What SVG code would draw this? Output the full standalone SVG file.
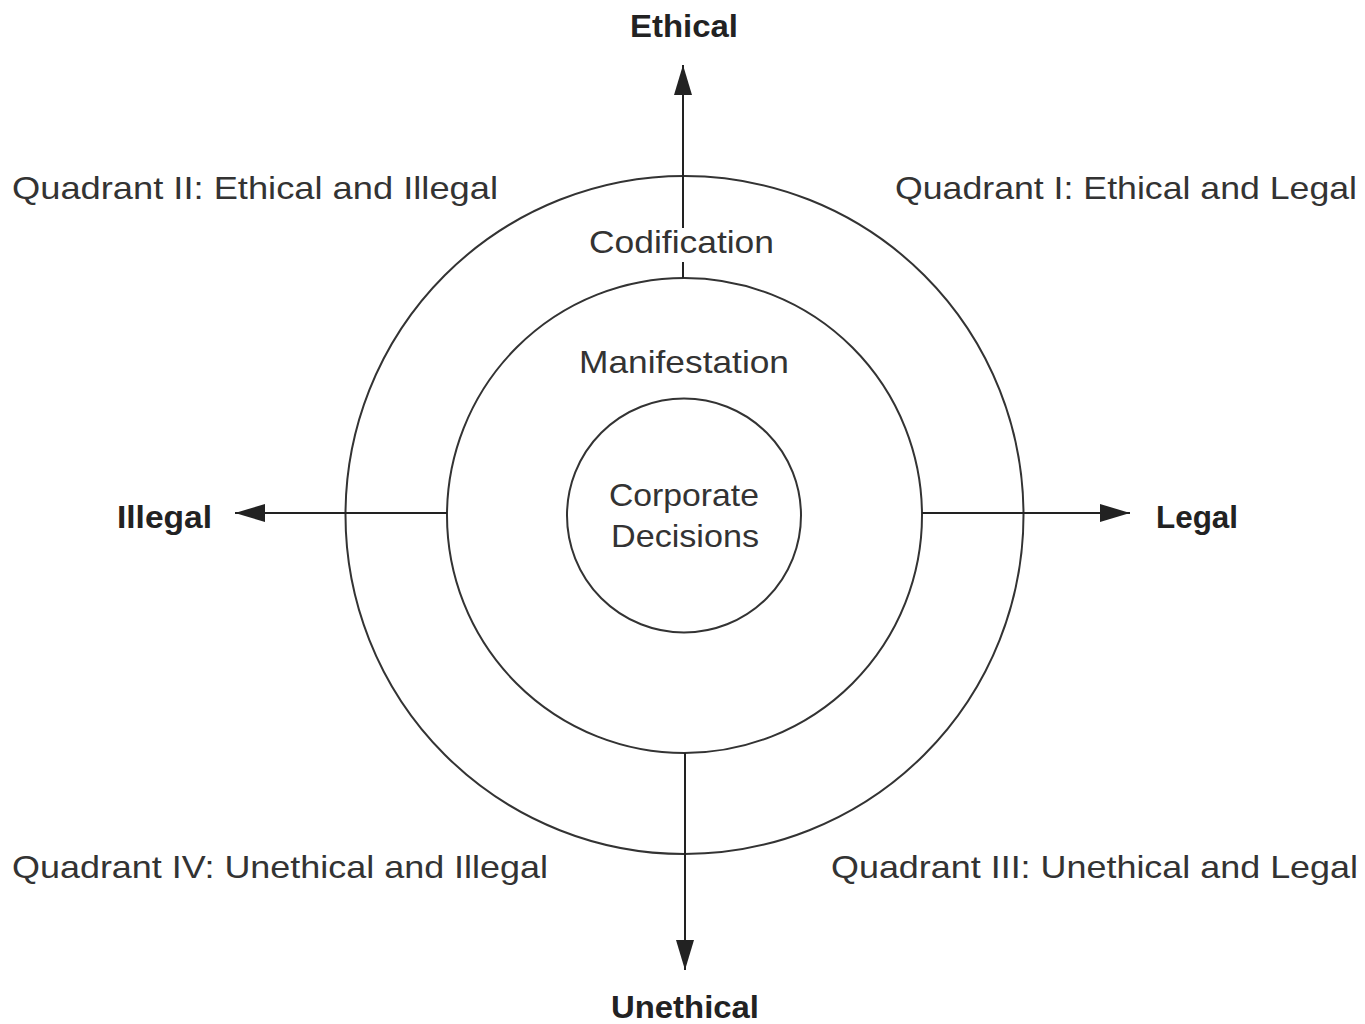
<svg xmlns="http://www.w3.org/2000/svg" width="1365" height="1024" viewBox="0 0 1365 1024">
<defs>
<style>
.ring{fill:none;stroke:#333;stroke-width:2}
.ax{fill:none;stroke:#222;stroke-width:2}
.t{font-family:"Liberation Sans",Arial,sans-serif;font-size:32px;fill:#333}
.b{font-family:"Liberation Sans",Arial,sans-serif;font-size:32px;font-weight:bold;fill:#222}
</style>
<marker id="ah" viewBox="0 0 30 18" refX="30" refY="9" markerWidth="30" markerHeight="18" markerUnits="userSpaceOnUse" orient="auto">
<path d="M0,0 L30,9 L0,18 Z" fill="#222"/>
</marker>
</defs>
<rect width="1365" height="1024" fill="#fff"/>
<g id="outer-ring"><circle class="ring" cx="684.5" cy="515" r="339"/><text class="t" x="681.5" y="253" text-anchor="middle" textLength="185" lengthAdjust="spacingAndGlyphs">Codification</text></g>
<g id="middle-ring"><circle class="ring" cx="684.5" cy="515.5" r="237.5"/><text class="t" x="684" y="373" text-anchor="middle" textLength="210" lengthAdjust="spacingAndGlyphs">Manifestation</text></g>
<g id="inner"><circle class="ring" cx="684" cy="515.5" r="117"/><text class="t" x="684" y="506" text-anchor="middle" textLength="150" lengthAdjust="spacingAndGlyphs">Corporate</text><text class="t" x="685" y="547" text-anchor="middle" textLength="148" lengthAdjust="spacingAndGlyphs">Decisions</text></g>
<g id="connectors">
<line class="ax" x1="683" y1="278" x2="683" y2="262"/>
<line class="ax" x1="683" y1="228" x2="683" y2="65" marker-end="url(#ah)"/>
<line class="ax" x1="685" y1="753" x2="685" y2="970" marker-end="url(#ah)"/>
<line class="ax" x1="447" y1="513" x2="235" y2="513" marker-end="url(#ah)"/>
<line class="ax" x1="922" y1="513" x2="1130" y2="513" marker-end="url(#ah)"/>
</g>
<g id="ethical"><text class="b" x="684" y="37" text-anchor="middle" textLength="108" lengthAdjust="spacingAndGlyphs">Ethical</text></g>
<g id="unethical"><text class="b" x="685" y="1018" text-anchor="middle" textLength="148" lengthAdjust="spacingAndGlyphs">Unethical</text></g>
<g id="illegal"><text class="b" x="117" y="528" textLength="95" lengthAdjust="spacingAndGlyphs">Illegal</text></g>
<g id="legal"><text class="b" x="1156" y="528" textLength="82" lengthAdjust="spacingAndGlyphs">Legal</text></g>
<g id="q2"><text class="t" x="12" y="199" textLength="486" lengthAdjust="spacingAndGlyphs">Quadrant II: Ethical and Illegal</text></g>
<g id="q1"><text class="t" x="895" y="199" textLength="462" lengthAdjust="spacingAndGlyphs">Quadrant I: Ethical and Legal</text></g>
<g id="q4"><text class="t" x="12" y="878" textLength="536" lengthAdjust="spacingAndGlyphs">Quadrant IV: Unethical and Illegal</text></g>
<g id="q3"><text class="t" x="831" y="878" textLength="527" lengthAdjust="spacingAndGlyphs">Quadrant III: Unethical and Legal</text></g>
</svg>
